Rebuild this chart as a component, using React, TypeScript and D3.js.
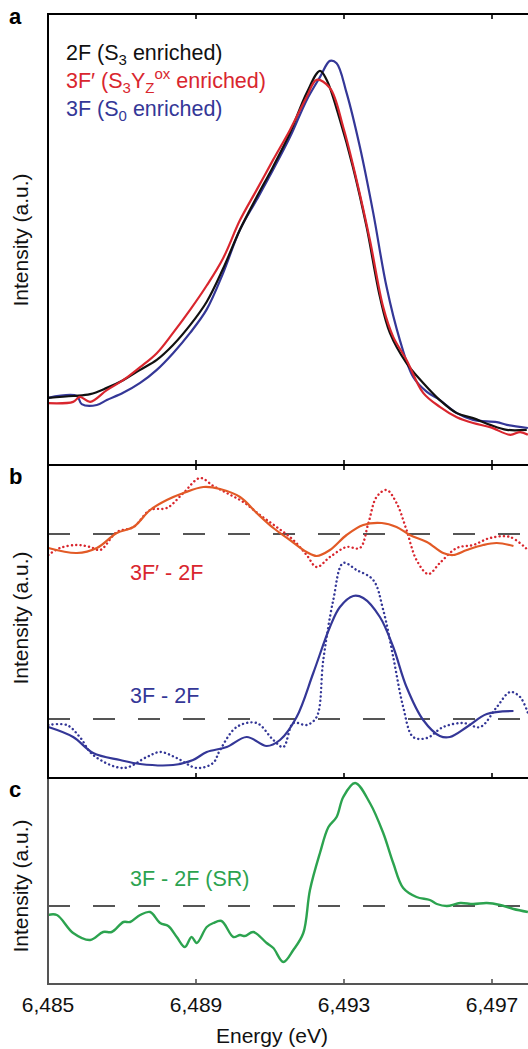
import React from "react";
import * as d3 from "d3";

// ---------- Data (energy in eV, intensity in a.u.) ----------
const xTicks = [6485, 6489, 6493, 6497];

// Panel a: normalised intensity
const s2F: [number, number][] = [
  [6485.0, 0.149], [6485.68, 0.153], [6486.14, 0.157], [6486.59, 0.171], [6487.03, 0.188],
  [6487.49, 0.211], [6487.94, 0.233], [6488.38, 0.266], [6488.84, 0.31], [6489.29, 0.362],
  [6489.73, 0.435], [6490.19, 0.522], [6490.64, 0.594], [6491.08, 0.661], [6491.54, 0.736],
  [6491.99, 0.825], [6492.35, 0.874], [6492.53, 0.854], [6492.89, 0.765], [6493.24, 0.661],
  [6493.61, 0.528], [6493.97, 0.373], [6494.24, 0.293], [6494.69, 0.226], [6495.14, 0.182],
  [6495.59, 0.144], [6496.05, 0.115], [6496.49, 0.104], [6496.95, 0.089], [6497.4, 0.078],
  [6497.94, 0.078],
];
const s3Fp: [number, number][] = [
  [6485.0, 0.137], [6485.68, 0.14], [6485.86, 0.151], [6486.14, 0.14], [6486.59, 0.166],
  [6487.03, 0.188], [6487.49, 0.217], [6487.94, 0.248], [6488.38, 0.293], [6488.84, 0.344],
  [6489.29, 0.398], [6489.73, 0.458], [6490.19, 0.543], [6490.64, 0.61], [6491.08, 0.676],
  [6491.54, 0.743], [6491.99, 0.816], [6492.26, 0.854], [6492.62, 0.836], [6492.98, 0.749],
  [6493.34, 0.632], [6493.7, 0.499], [6494.06, 0.35], [6494.33, 0.284], [6494.69, 0.233],
  [6495.14, 0.16], [6495.59, 0.129], [6496.05, 0.106], [6496.49, 0.093], [6496.95, 0.084],
  [6497.49, 0.067], [6497.76, 0.073], [6497.97, 0.067],
];
const s3F: [number, number][] = [
  [6485.0, 0.149], [6485.78, 0.153], [6485.91, 0.135], [6486.32, 0.133], [6486.59, 0.144],
  [6487.03, 0.16], [6487.49, 0.182], [6487.94, 0.211], [6488.38, 0.248], [6488.84, 0.293],
  [6489.29, 0.345], [6489.73, 0.425], [6490.19, 0.522], [6490.64, 0.588], [6491.08, 0.654],
  [6491.54, 0.727], [6491.99, 0.809], [6492.35, 0.86], [6492.62, 0.896], [6492.8, 0.891],
  [6493.07, 0.825], [6493.43, 0.705], [6493.79, 0.559], [6494.15, 0.395], [6494.51, 0.277],
  [6494.87, 0.195], [6495.24, 0.162], [6495.59, 0.144], [6496.05, 0.115], [6496.49, 0.1],
  [6497.13, 0.095], [6497.4, 0.089], [6497.97, 0.082],
];

// Panel b: difference spectra (relative to their own zero line)
const offset3FpDiff = 1.85;
const diff3FpSmooth: [number, number][] = [
  [6485.01, -0.14], [6485.78, -0.19], [6486.32, -0.14], [6486.86, 0.01], [6487.31, 0.07],
  [6487.76, 0.24], [6488.21, 0.34], [6488.66, 0.41], [6489.2, 0.47], [6489.65, 0.45],
  [6490.19, 0.37], [6490.64, 0.21], [6491.09, 0.06], [6491.54, -0.06], [6491.99, -0.18],
  [6492.26, -0.22], [6492.62, -0.16], [6493.07, -0.01], [6493.52, 0.09], [6494.02, 0.11],
  [6494.42, 0.07], [6494.78, -0.01], [6495.24, -0.08], [6495.68, -0.19], [6495.95, -0.21],
  [6496.32, -0.16], [6496.76, -0.11], [6497.13, -0.09], [6497.58, -0.12],
];
const diff3FpRaw: [number, number][] = [
  [6485.01, -0.21], [6485.32, -0.14], [6485.78, -0.11], [6486.14, -0.13], [6486.41, -0.16],
  [6486.86, 0.02], [6487.31, 0.07], [6487.76, 0.24], [6488.21, 0.26], [6488.66, 0.41],
  [6489.11, 0.56], [6489.47, 0.48], [6489.83, 0.41], [6490.28, 0.32], [6490.73, 0.19],
  [6491.18, 0.07], [6491.63, -0.06], [6491.99, -0.21], [6492.26, -0.33], [6492.62, -0.23],
  [6493.07, -0.13], [6493.43, -0.14], [6493.66, 0.11], [6493.88, 0.37], [6494.15, 0.44],
  [6494.42, 0.31], [6494.69, 0.04], [6494.96, -0.26], [6495.28, -0.4], [6495.59, -0.29],
  [6496.05, -0.14], [6496.49, -0.11], [6496.95, -0.04], [6497.49, -0.03], [6497.97, -0.16],
];
const diff3FSmooth: [number, number][] = [
  [6485.01, -0.08], [6485.68, -0.18], [6486.22, -0.34], [6486.95, -0.41], [6487.49, -0.45],
  [6488.38, -0.46], [6488.92, -0.41], [6489.29, -0.33], [6489.83, -0.28], [6490.37, -0.18],
  [6490.91, -0.27], [6491.27, -0.21], [6491.72, 0.02], [6492.17, 0.46], [6492.62, 0.92],
  [6492.89, 1.12], [6493.25, 1.23], [6493.52, 1.21], [6493.97, 1.02], [6494.33, 0.72],
  [6494.69, 0.32], [6495.14, -0.01], [6495.59, -0.17], [6495.86, -0.18], [6496.32, -0.08],
  [6496.86, 0.05], [6497.58, 0.08],
];
const diff3FRaw: [number, number][] = [
  [6485.01, -0.06], [6485.51, -0.06], [6485.86, -0.18], [6486.22, -0.36], [6487.04, -0.49],
  [6487.67, -0.38], [6488.03, -0.33], [6488.48, -0.39], [6489.02, -0.49], [6489.46, -0.44],
  [6489.65, -0.31], [6490.1, -0.08], [6490.64, -0.04], [6491.09, -0.21], [6491.36, -0.28],
  [6491.63, -0.04], [6491.99, -0.06], [6492.26, 0.02], [6492.44, 0.59], [6492.71, 1.19],
  [6492.98, 1.56], [6493.34, 1.49], [6493.79, 1.39], [6494.06, 1.09], [6494.33, 0.62],
  [6494.6, 0.12], [6494.87, -0.18], [6495.24, -0.19], [6495.68, -0.08], [6496.22, -0.04],
  [6496.68, -0.08], [6497.13, 0.12], [6497.49, 0.27], [6497.76, 0.22], [6497.97, 0.06],
];

// Panel c: 3F - 2F (SR)
const diffSR: [number, number][] = [
  [6485.0, -0.09], [6485.24, -0.09], [6485.68, -0.27], [6486.14, -0.34], [6486.49, -0.26],
  [6486.72, -0.26], [6487.04, -0.16], [6487.22, -0.16], [6487.49, -0.09], [6487.76, -0.06],
  [6488.03, -0.17], [6488.25, -0.2], [6488.48, -0.31], [6488.7, -0.41], [6488.88, -0.31],
  [6489.02, -0.37], [6489.29, -0.21], [6489.47, -0.17], [6489.69, -0.15], [6490.01, -0.31],
  [6490.19, -0.29], [6490.32, -0.3], [6490.55, -0.26], [6490.91, -0.37], [6491.09, -0.42],
  [6491.36, -0.56], [6491.63, -0.44], [6491.9, -0.27], [6492.08, 0.16], [6492.35, 0.53],
  [6492.58, 0.79], [6492.8, 0.89], [6492.98, 1.09], [6493.3, 1.23], [6493.7, 1.03],
  [6494.06, 0.73], [6494.33, 0.43], [6494.6, 0.18], [6494.96, 0.09], [6495.32, 0.06],
  [6495.51, 0.02], [6495.78, 0.0], [6496.14, 0.03], [6496.49, 0.02], [6496.86, 0.03],
  [6497.22, 0.01], [6497.58, -0.03], [6497.97, -0.06],
];

// ---------- Layout ----------
const W = 528;
const H = 1049;
const FONT = "'Liberation Sans', Arial, Helvetica, sans-serif";
const C = {
  black: "#111111",
  red: "#d9262e",
  blue: "#343797",
  orange: "#e25a26",
  green: "#2ca34f",
  dash: "#555555",
  axisC: "#555555",
};

export default function App() {
  const x = d3.scaleLinear().domain([6485, 6497]).range([48, 492]);
  const yA = d3.scaleLinear().domain([0, 1]).range([465, 14]);
  const yB = d3.scaleLinear().domain([-0.59, 2.54]).range([778, 465]);
  const yC = d3.scaleLinear().domain([-0.78, 1.28]).range([984, 778]);

  const mk = (ys: d3.ScaleLinear<number, number>, off = 0) =>
    d3
      .line<[number, number]>()
      .x((d) => x(d[0]))
      .y((d) => ys(d[1] + off))
      .curve(d3.curveCatmullRom.alpha(0.5));

  const lA = mk(yA);
  const lBt = mk(yB, offset3FpDiff);
  const lBb = mk(yB, 0);
  const lC = mk(yC);

  const x0 = x(6485);
  const xEnd = W + 2;
  const tickLen = 5;
  const fs = 21.5;

  const ticksAt = (y: number, dir: number, color: string) =>
    xTicks.slice(1).map((t) => (
      <line key={`${y}-${dir}-${t}`} x1={x(t)} x2={x(t)} y1={y} y2={y + dir * tickLen} stroke={color} strokeWidth={1.6} />
    ));

  const dashLine = (y: number) => (
    <line x1={x0} x2={520} y1={y} y2={y} stroke={C.dash} strokeWidth={2} strokeDasharray="22 23" />
  );

  const yLabel = (cy: number) => (
    <text transform={`translate(28,${cy}) rotate(-90)`} textAnchor="middle" fontSize={21} fill="#111">
      Intensity (a.u.)
    </text>
  );

  return (
    <svg width={W} height={H} style={{ position: "absolute", left: 0, top: 0 }} fontFamily={FONT}>
      <defs>
        <clipPath id="clipA"><rect x={x0} y={14} width={xEnd - x0} height={451} /></clipPath>
        <clipPath id="clipB"><rect x={x0} y={466} width={xEnd - x0} height={311} /></clipPath>
        <clipPath id="clipC"><rect x={x0} y={779} width={xEnd - x0} height={205} /></clipPath>
      </defs>
      <rect width={W} height={H} fill="#fff" />

      {/* Panel a */}
      <g clipPath="url(#clipA)" fill="none" strokeWidth={2.2} strokeLinejoin="round">
        <path d={lA(s3F) || ""} stroke={C.blue} />
        <path d={lA(s2F) || ""} stroke={C.black} />
        <path d={lA(s3Fp) || ""} stroke={C.red} />
      </g>

      {/* Panel b */}
      {dashLine(yB(offset3FpDiff))}
      {dashLine(yB(0))}
      <g clipPath="url(#clipB)" fill="none" strokeLinejoin="round">
        <path d={lBt(diff3FpRaw) || ""} stroke={C.red} strokeWidth={2.4} strokeDasharray="0.1 4.2" strokeLinecap="round" />
        <path d={lBt(diff3FpSmooth) || ""} stroke={C.orange} strokeWidth={2.2} />
        <path d={lBb(diff3FRaw) || ""} stroke={C.blue} strokeWidth={2.4} strokeDasharray="0.1 4.2" strokeLinecap="round" />
        <path d={lBb(diff3FSmooth) || ""} stroke={C.blue} strokeWidth={2.2} />
      </g>

      {/* Panel c */}
      {dashLine(yC(0))}
      <g clipPath="url(#clipC)" fill="none" strokeLinejoin="round">
        <path d={lC(diffSR) || ""} stroke={C.green} strokeWidth={2.4} />
      </g>

      {/* Axes panel a & b */}
      <line x1={x0} x2={xEnd} y1={14} y2={14} stroke="#000" strokeWidth={1.8} />
      <line x1={x0} x2={xEnd} y1={465} y2={465} stroke="#000" strokeWidth={2} />
      <line x1={x0} x2={xEnd} y1={778} y2={778} stroke="#000" strokeWidth={2} />
      <line x1={x0} x2={x0} y1={13} y2={779} stroke="#000" strokeWidth={2} />
      {ticksAt(14, 1, "#000")}
      {ticksAt(465, -1, "#000")}
      {ticksAt(465, 1, "#000")}
      {ticksAt(778, -1, "#000")}
      {/* Axes panel c */}
      <line x1={x0} x2={x0} y1={779} y2={985} stroke={C.axisC} strokeWidth={2} />
      <line x1={x0 - 1} x2={xEnd} y1={984} y2={984} stroke={C.axisC} strokeWidth={2} />
      {ticksAt(984, -1, C.axisC)}

      {/* Tick labels */}
      {xTicks.map((t) => (
        <text key={t} x={x(t)} y={1012} textAnchor="middle" fontSize={21} fill="#111">
          {d3.format(",")(t)}
        </text>
      ))}
      <text x={272} y={1043} textAnchor="middle" fontSize={21} fill="#111">Energy (eV)</text>

      {/* Y labels */}
      {yLabel(240)}
      {yLabel(618)}
      {yLabel(886)}

      {/* Panel letters */}
      <text x={9} y={24} fontSize={22} fontWeight="bold" fill="#000">a</text>
      <text x={9} y={484} fontSize={22} fontWeight="bold" fill="#000">b</text>
      <text x={9} y={797} fontSize={22} fontWeight="bold" fill="#000">c</text>

      {/* Legend */}
      <text x={66} y={60} fontSize={fs} fill={C.black}>
        2F (S<tspan fontSize={15} dy={5}>3</tspan><tspan dy={-5}> enriched)</tspan>
      </text>
      <text x={66} y={88} fontSize={fs} fill={C.red}>
        3F′ (S<tspan fontSize={15} dy={5}>3</tspan><tspan dy={-5}>Y</tspan>
        <tspan fontSize={15} dy={5}>Z</tspan>
        <tspan fontSize={15} dy={-14}>ox</tspan>
        <tspan dy={9}> enriched)</tspan>
      </text>
      <text x={66} y={116} fontSize={fs} fill={C.blue}>
        3F (S<tspan fontSize={15} dy={5}>0</tspan><tspan dy={-5}> enriched)</tspan>
      </text>

      {/* Panel b/c labels */}
      <text x={130} y={580} fontSize={fs} fill={C.red}>3F′ - 2F</text>
      <text x={130} y={703} fontSize={fs} fill={C.blue}>3F - 2F</text>
      <text x={130} y={886} fontSize={fs} fill={C.green}>3F - 2F (SR)</text>
    </svg>
  );
}
